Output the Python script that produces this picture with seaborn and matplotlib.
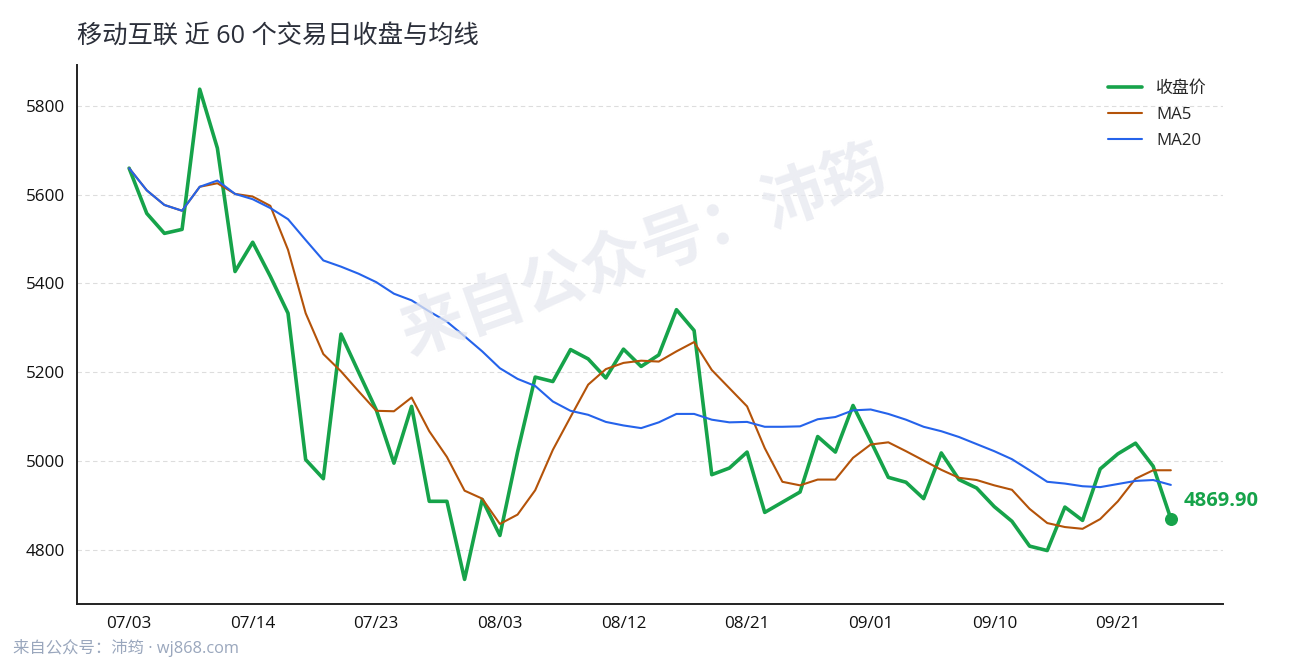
import matplotlib
matplotlib.use("Agg")
import matplotlib.pyplot as plt
import seaborn as sns
import numpy as np
import pandas as pd

# data (60 trading days)
close = [5660, 5558, 5513, 5522, 5838, 5705, 5427, 5493, 5416, 5333,
         5003, 4960, 5286, 5200, 5115, 4995, 5123, 4909, 4909, 4733,
         4913, 4832, 5020, 5189, 5179, 5251, 5230, 5187, 5252, 5213,
         5239, 5341, 5294, 4969, 4984, 5020, 4884, 4907, 4930, 5055,
         5020, 5125, 5045, 4963, 4952, 4915, 5018, 4958, 4939, 4897,
         4864, 4808, 4798, 4896, 4866, 4982, 5016, 5040, 4988, 4869.90]
ma5 = [5660, 5610, 5577, 5564, 5618, 5626, 5602, 5596, 5575, 5476,
       5333, 5241, 5202, 5157, 5113, 5112, 5143, 5067, 5009, 4933,
       4915, 4858, 4879, 4934, 5025, 5099, 5172, 5207, 5221, 5226,
       5224, 5247, 5268, 5205, 5164, 5123, 5029, 4953, 4945, 4958,
       4958, 5007, 5037, 5042, 5022, 5001, 4980, 4962, 4957, 4945,
       4935, 4892, 4860, 4851, 4847, 4869, 4909, 4960, 4979, 4979]
ma20 = [5660, 5610, 5577, 5564, 5618, 5632, 5602, 5590, 5570, 5545,
        5498, 5452, 5438, 5422, 5403, 5377, 5362, 5337, 5314, 5281,
        5247, 5209, 5185, 5169, 5134, 5113, 5104, 5088, 5080, 5074,
        5087, 5106, 5106, 5093, 5087, 5088, 5077, 5077, 5078, 5094,
        5099, 5114, 5116, 5106, 5093, 5077, 5067, 5054, 5038, 5022,
        5004, 4979, 4953, 4949, 4943, 4941, 4948, 4955, 4957, 4946]
tick_labels = ["07/03", "07/14", "07/23", "08/03", "08/12",
               "08/21", "09/01", "09/10", "09/21"]

sns.set_style("white")
plt.rcParams["font.family"] = ["Open Sans", "Noto Sans CJK SC", "DejaVu Sans"]
plt.rcParams["axes.unicode_minus"] = False

df = pd.DataFrame({"day": np.arange(len(close)), "close": close,
                   "ma5": ma5, "ma20": ma20})

fig, ax = plt.subplots(figsize=(12.9, 6.6), dpi=100)
fig.subplots_adjust(left=0.0597, right=0.948, top=0.902, bottom=0.085)

green = "#16a34a"
sns.lineplot(data=df, x="day", y="close", ax=ax, color=green,
             linewidth=2.6, label="收盘价")
sns.lineplot(data=df, x="day", y="ma5", ax=ax, color="#b45309",
             linewidth=1.5, label="MA5")
sns.lineplot(data=df, x="day", y="ma20", ax=ax, color="#2563eb",
             linewidth=1.5, label="MA20")

# last close marker + label
last = df.iloc[-1]
ax.scatter([last["day"]], [last["close"]], s=70, color=green, zorder=5)
ax.annotate(f"{last['close']:.2f}", (last["day"], last["close"]),
            xytext=(9, 13), textcoords="offset points",
            color=green, fontsize=14.5, fontweight="bold", va="center")

ax.set_xticks(df["day"][::7])
ax.set_xticklabels(tick_labels)
ax.set_yticks([4800, 5000, 5200, 5400, 5600, 5800])
ax.tick_params(axis="both", labelsize=12.3, length=5, width=1.2,
               direction="out", colors="#222222", labelcolor="#111111")
ax.set_xlabel("")
ax.set_ylabel("")
ax.grid(axis="y", color="#dddddd", linestyle=(0, (4, 3)), linewidth=0.8)
ax.grid(axis="x", visible=False)
sns.despine(ax=ax)
for side in ["left", "bottom"]:
    ax.spines[side].set_color("#222222")
    ax.spines[side].set_linewidth(1.4)

ax.legend(loc="upper right", frameon=False, fontsize=12.2,
          handlelength=2.0, borderaxespad=0.55, labelspacing=0.6,
          handletextpad=0.85, borderpad=0.4)

fig.text(0.0597, 0.945, "移动互联 近 60 个交易日收盘与均线", fontsize=18.2,
         color="#2b2f3a", va="center", ha="left")

# watermark
fig.text(0.5, 0.615, "来自公众号：沛筠", fontsize=46, fontweight="bold",
         color="#e6e8ef", alpha=0.75, rotation=19.5, ha="center",
         va="center", zorder=0)
fig.text(0.01, 0.018, "来自公众号：沛筠 · wj868.com", fontsize=11.8,
         color="#9aa7bd", ha="left", va="center")

fig.savefig("out.png", dpi=100)
